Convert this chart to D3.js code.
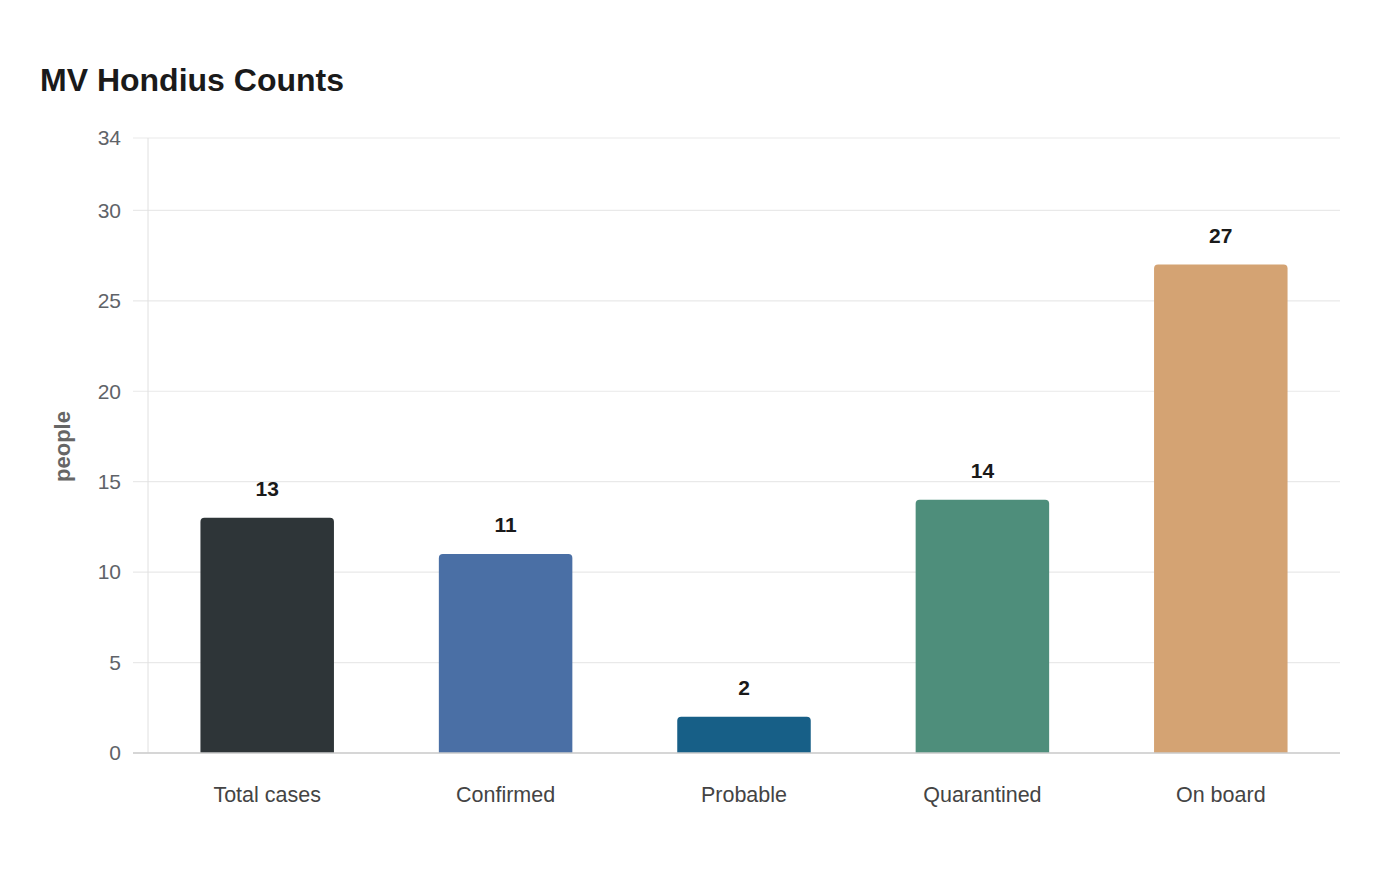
<!DOCTYPE html>
<html>
<head>
<meta charset="utf-8">
<script src="https://cdn.jsdelivr.net/npm/d3@7"></script>
<style>
  body { margin: 0; background: #fff; }
  svg { font-family: "Liberation Sans", Arial, sans-serif; }
</style>
</head>
<body>
<div id="chart"></div>
<script>
const categories = ["Total cases", "Confirmed", "Probable", "Quarantined", "On board"];
const counts = [13, 11, 2, 14, 27];
const barColors = ["#2e3538", "#4a6fa5", "#175f87", "#4e8e7b", "#d4a373"];
const yTicks = [0, 5, 10, 15, 20, 25, 30, 34];

const width = 1400, height = 880;
const margin = { top: 138, right: 60, bottom: 127, left: 148 };

const svg = d3.select("#chart").append("svg")
    .attr("width", width).attr("height", height);

svg.append("text")
    .attr("x", 40).attr("y", 91)
    .attr("font-size", 32).attr("font-weight", "bold")
    .attr("fill", "#1a1a1a")
    .text("MV Hondius Counts");

const x = d3.scaleBand()
    .domain(categories)
    .range([margin.left, width - margin.right])
    .paddingInner(0.44).paddingOuter(0.22);

const y = d3.scaleLinear()
    .domain([0, 34])
    .range([height - margin.bottom, margin.top]);

// grid lines
svg.append("g")
    .selectAll("line")
    .data(yTicks)
    .join("line")
    .attr("x1", margin.left - 15).attr("x2", width - margin.right)
    .attr("y1", d => y(d)).attr("y2", d => y(d))
    .attr("stroke", "#e9e9e9").attr("stroke-width", 1.2);

// y axis line
svg.append("line")
    .attr("x1", margin.left).attr("x2", margin.left)
    .attr("y1", margin.top).attr("y2", y(0))
    .attr("stroke", "#e0e0e0");

// y tick labels
svg.append("g")
    .selectAll("text")
    .data(yTicks)
    .join("text")
    .attr("x", margin.left - 27).attr("y", d => y(d))
    .attr("dy", "0.35em")
    .attr("text-anchor", "end")
    .attr("font-size", 21).attr("fill", "#5f6368")
    .text(d => d);

svg.append("text")
    .attr("transform", `translate(70,${(margin.top + y(0)) / 2 + 1}) rotate(-90)`)
    .attr("text-anchor", "middle")
    .attr("font-size", 22).attr("font-weight", "bold")
    .attr("fill", "#666")
    .text("people");

// bars with rounded tops
const r = 4;
function barPath(d, i) {
    const x0 = x(categories[i]), w = x.bandwidth();
    const top = y(d), base = y(0);
    return `M${x0},${base}V${top + r}Q${x0},${top} ${x0 + r},${top}` +
        `H${x0 + w - r}Q${x0 + w},${top} ${x0 + w},${top + r}V${base}Z`;
}

svg.append("g")
    .selectAll("path")
    .data(counts)
    .join("path")
    .attr("d", barPath)
    .attr("fill", (d, i) => barColors[i]);

svg.append("g")
    .selectAll("text")
    .data(counts)
    .join("text")
    .attr("x", (d, i) => x(categories[i]) + x.bandwidth() / 2)
    .attr("y", d => y(d) - 22)
    .attr("text-anchor", "middle")
    .attr("font-size", 21).attr("font-weight", "bold")
    .attr("fill", "#1a1a1a")
    .text(d => d);

// x axis baseline
svg.append("line")
    .attr("x1", margin.left - 15).attr("x2", width - margin.right)
    .attr("y1", y(0)).attr("y2", y(0))
    .attr("stroke", "#cccccc").attr("stroke-width", 1.5);

svg.append("g")
    .selectAll("text")
    .data(categories)
    .join("text")
    .attr("x", d => x(d) + x.bandwidth() / 2)
    .attr("y", y(0) + 49)
    .attr("text-anchor", "middle")
    .attr("font-size", 21.5).attr("fill", "#444")
    .text(d => d);
</script>
</body>
</html>
